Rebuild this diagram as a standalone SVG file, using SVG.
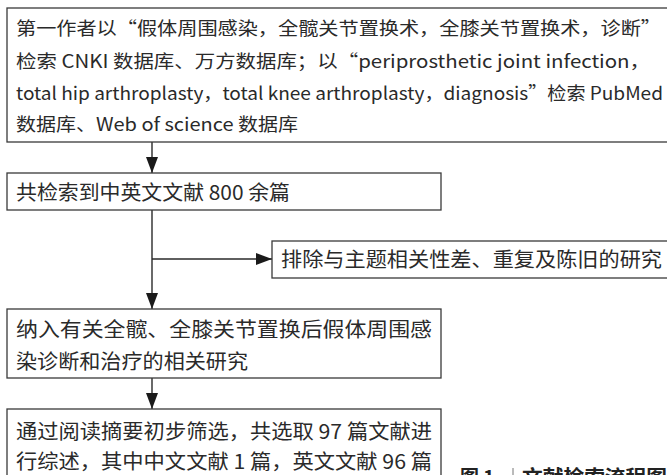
<svg xmlns="http://www.w3.org/2000/svg" width="667" height="475" viewBox="0 0 667 475">
<defs>
<style>
.box{fill:#fff;stroke:#3a3a3a;stroke-width:1.3}
.t{font-family:"Noto Sans CJK SC","Liberation Sans",sans-serif;fill:#2a2a2a}
.s18{font-size:18px}
.s20{font-size:20px}
.cap{font-family:"Noto Sans CJK SC","Liberation Sans",sans-serif;font-size:19px;font-weight:bold;fill:#222}
.ln{stroke:#2a2a2a;stroke-width:1.4;fill:none}
</style>
<marker id="ah" viewBox="0 0 16 12" refX="16" refY="6" markerWidth="16" markerHeight="12" markerUnits="userSpaceOnUse" orient="auto">
<path d="M0,0 L16,6 L0,12 Z" fill="#1a1a1a"/>
</marker>
</defs>
<rect width="667" height="475" fill="#fff"/>
<g id="connectors">
<line class="ln" x1="152" y1="142" x2="152" y2="173" marker-end="url(#ah)"/>
<line class="ln" x1="152" y1="210" x2="152" y2="309" marker-end="url(#ah)"/>
<line class="ln" x1="152" y1="259" x2="272" y2="259" marker-end="url(#ah)"/>
<line class="ln" x1="152" y1="378" x2="152" y2="409" marker-end="url(#ah)"/>
</g>
<g id="node1">
<rect class="box" x="7" y="8" width="680" height="134"/>
<text class="t s18" x="16" y="35" textLength="645" lengthAdjust="spacingAndGlyphs">第一作者以“假体周围感染，全髋关节置换术，全膝关节置换术，诊断”</text>
<text class="t s18" x="16" y="68" textLength="634" lengthAdjust="spacingAndGlyphs">检索 CNKI 数据库、万方数据库；以“periprosthetic joint infection，</text>
<text class="t s18" x="16" y="100" textLength="647" lengthAdjust="spacingAndGlyphs">total hip arthroplasty，total knee arthroplasty，diagnosis”检索 PubMed</text>
<text class="t s18" x="16" y="131" textLength="282" lengthAdjust="spacingAndGlyphs">数据库、Web of science 数据库</text>
</g>
<g id="node2">
<rect class="box" x="7" y="173" width="434" height="37"/>
<text class="t s20" x="16" y="199.5" textLength="274" lengthAdjust="spacingAndGlyphs">共检索到中英文文献 800 余篇</text>
</g>
<g id="node3">
<rect class="box" x="272" y="241" width="420" height="37"/>
<text class="t s20" x="281" y="267" textLength="381" lengthAdjust="spacingAndGlyphs">排除与主题相关性差、重复及陈旧的研究</text>
</g>
<g id="node4">
<rect class="box" x="7" y="309" width="434" height="69"/>
<text class="t s20" x="16" y="336.5" textLength="416" lengthAdjust="spacingAndGlyphs">纳入有关全髋、全膝关节置换后假体周围感</text>
<text class="t s20" x="16" y="368.5" textLength="232" lengthAdjust="spacingAndGlyphs">染诊断和治疗的相关研究</text>
</g>
<g id="node5">
<rect class="box" x="7" y="409" width="434" height="80"/>
<text class="t s20" x="16" y="438.5" textLength="416" lengthAdjust="spacingAndGlyphs">通过阅读摘要初步筛选，共选取 97 篇文献进</text>
<text class="t s20" x="16" y="468.5" textLength="416" lengthAdjust="spacingAndGlyphs">行综述，其中中文文献 1 篇，英文文献 96 篇</text>
</g>
<g id="caption">
<text class="cap" x="460" y="484">图 1</text>
<line x1="513" y1="468" x2="513" y2="480" stroke="#777" stroke-width="1"/>
<text class="cap" x="522" y="484" textLength="145" lengthAdjust="spacingAndGlyphs">文献检索流程图</text>
</g>
</svg>
